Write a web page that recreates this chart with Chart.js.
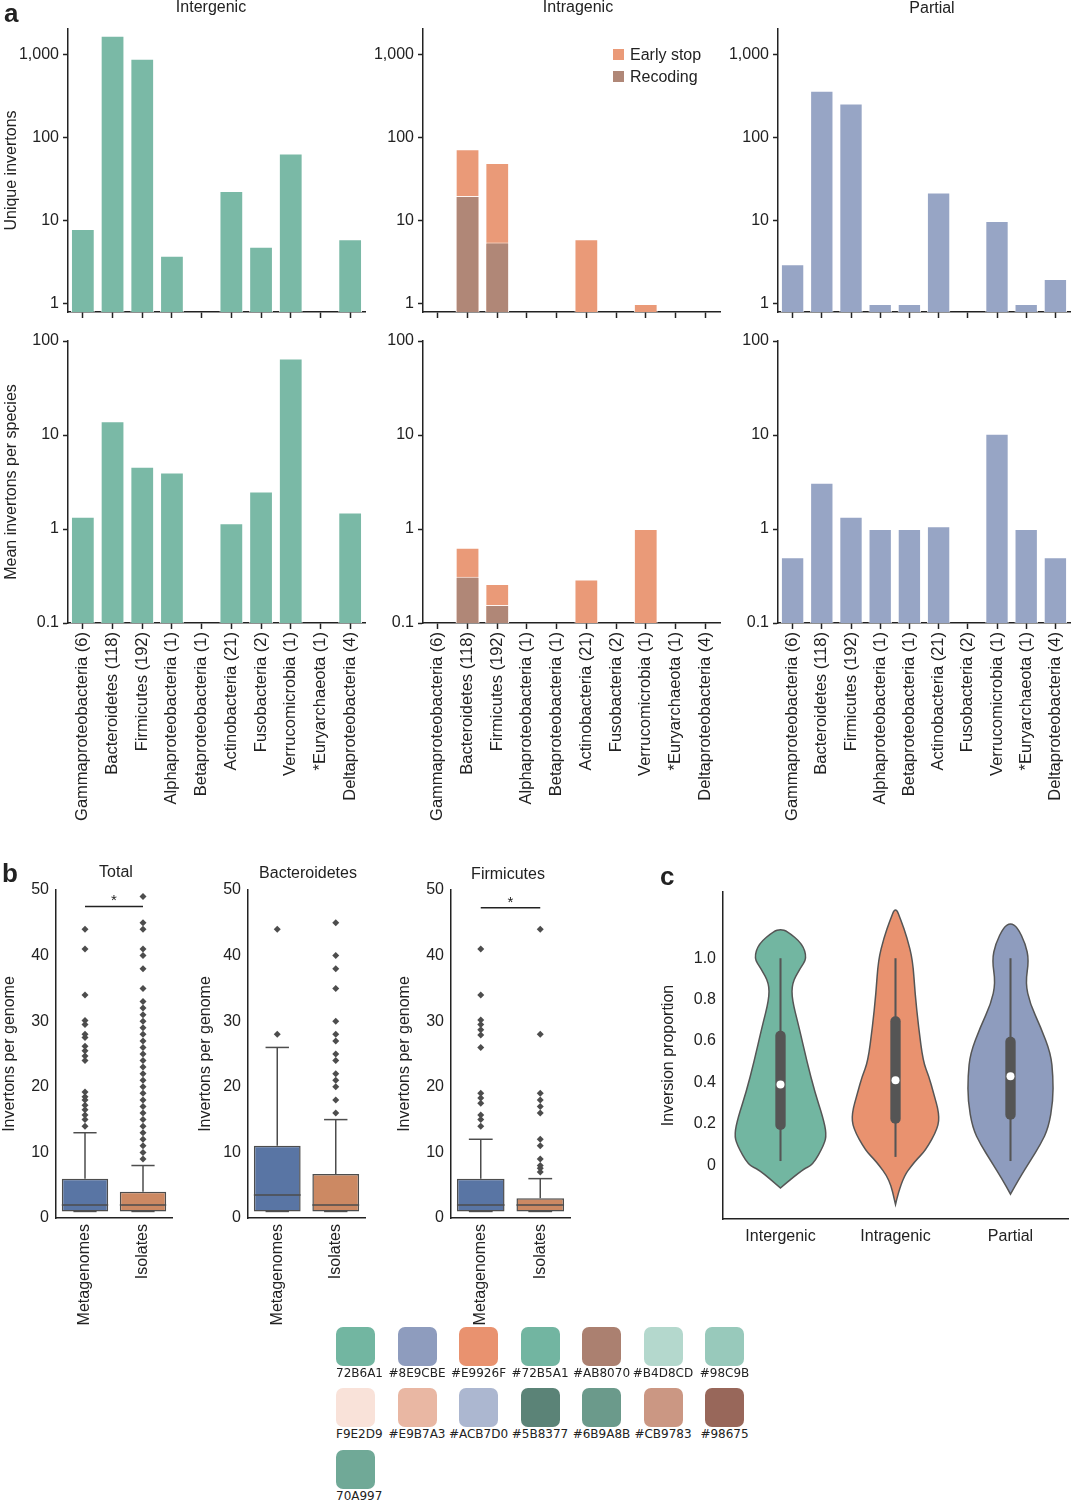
<!DOCTYPE html>
<html>
<head>
<meta charset="utf-8">
<script src="https://cdn.jsdelivr.net/npm/chart.js@4.4.1/dist/chart.umd.min.js"></script>
<style>
  body { margin: 0; background: #fff; font-family: 'Liberation Sans', Arial, sans-serif; color: #222; }
  #page { position: relative; width: 1080px; height: 1500px; overflow: hidden; }
  .box { position: absolute; }
  .txt { position: absolute; font-size: 16px; white-space: nowrap; transform: translate(-50%, -50%); }
  .letter { position: absolute; font-weight: bold; font-size: 26px; line-height: 1; }
  .legsq { position: absolute; width: 11px; height: 11px; }
  .leg { position: absolute; font-size: 16px; white-space: nowrap; transform: translateY(-50%); }
  .sw { position: absolute; width: 39px; height: 39px; border-radius: 7px; z-index: 5; }
  .swl { position: absolute; font-family: 'DejaVu Sans', sans-serif; font-size: 12px; white-space: nowrap; z-index: 5; transform: translateY(-50%); }
</style>
</head>
<body>
<div id="page"></div>
<script>
// ---------- data ----------
const phyla = ['Gammaproteobacteria (6)', 'Bacteroidetes (118)', 'Firmicutes (192)', 'Alphaproteobacteria (1)',
  'Betaproteobacteria (1)', 'Actinobacteria (21)', 'Fusobacteria (2)', 'Verrucomicrobia (1)',
  '*Euryarchaeota (1)', 'Deltaproteobacteria (4)'];

// unique invertons (top row)
const uniqueIntergenic = [8, 1700, 900, 3.8, null, 23, 4.9, 65, null, 6];
const uniqueEarlyStop = [null, 73, 50, null, null, 6, null, 1, null, null];
const uniqueRecoding = [null, 20, 5.5, null, null, null, null, null, null, null];
const uniquePartial = [3, 370, 260, 1, 1, 22, null, 10, 1, 2];
const uniqueTicks = [1, 10, 100, 1000];

// mean invertons per species (bottom row)
const meanIntergenic = [1.35, 14, 4.6, 4.0, null, 1.15, 2.5, 65, null, 1.5];
const meanEarlyStop = [null, 0.63, 0.26, null, null, 0.29, null, 1.0, null, null];
const meanRecoding = [null, 0.31, 0.155, null, null, null, null, null, null, null];
const meanPartial = [0.5, 3.1, 1.35, 1.0, 1.0, 1.07, null, 10.3, 1.0, 0.5];
const meanTicks = [0.1, 1, 10, 100];

// box plots: [low whisker, q1, median, q3, high whisker]
const sources = ['Metagenomes', 'Isolates'];
const totalStats = [[1, 1, 2, 6, 13], [1, 1, 2, 4, 8]];
const totalOutMeta = [14, 15, 15.7, 16.5, 17.2, 18, 18.5, 19.2, 24, 24.7, 25.5, 26.2, 27.5, 28, 29.5, 30.1, 34, 41, 44];
const totalOutIso = [9, 10, 11, 12, 13, 14, 15, 16, 17, 18, 19, 20, 21, 22, 23, 24, 25, 26, 27, 28, 29, 30,
  31, 32, 33, 35, 38, 40, 41, 44, 45, 49];
const bactStats = [[1, 1, 3.5, 11, 26], [1, 1, 2, 6.7, 15]];
const bactOutMeta = [28, 44];
const bactOutIso = [16, 18, 20, 21, 22, 24, 25, 27, 28, 30, 35, 38, 40, 45];
const firmStats = [[1, 1, 2, 6, 12], [1, 1, 2, 3, 6]];
const firmOutMeta = [14, 15, 15.7, 17.5, 18.3, 19, 26, 27.9, 28.7, 29.5, 30.2, 34, 41];
const firmOutIso = [7, 7.6, 8, 9, 11, 12, 16, 17, 18, 19, 28, 44];
const totalSig = 47.5;
const firmSig = 47.3;

// violins: y positions and half widths (in category widths)
const violinGroups = ['Intergenic', 'Intragenic', 'Partial'];
const violinY = [
  [-0.11, -0.02, 0, 0.1, 0.15, 0.23, 0.35, 0.5, 0.67, 0.8, 0.88, 0.95, 1.0, 1.07, 1.13, 1.14],
  [-0.19, -0.07, 0.02, 0.07, 0.18, 0.25, 0.35, 0.43, 0.5, 0.67, 0.83, 0.99, 1.1, 1.18, 1.25],
  [-0.14, -0.07, 0.02, 0.1, 0.18, 0.31, 0.43, 0.54, 0.67, 0.78, 0.88, 0.99, 1.07, 1.15, 1.17]
];
const violinW = [
  [0, 0.19, 0.28, 0.38, 0.40, 0.37, 0.30, 0.23, 0.16, 0.10, 0.10, 0.17, 0.23, 0.19, 0.06, 0],
  [0, 0.05, 0.17, 0.26, 0.37, 0.38, 0.33, 0.29, 0.24, 0.20, 0.17, 0.15, 0.10, 0.05, 0],
  [0, 0.07, 0.17, 0.26, 0.33, 0.37, 0.37, 0.35, 0.26, 0.17, 0.13, 0.16, 0.13, 0.06, 0]
];
const violinStats = [[0.02, 0.17, 0.39, 0.65, 1.0], [0.04, 0.2, 0.41, 0.72, 1.0], [0.02, 0.22, 0.43, 0.62, 1.0]];
const violinTicks = [0, 0.2, 0.4, 0.6, 0.8, 1.0];

// palette swatches
const swatchLabels = [
  ['72B6A1', '#8E9CBE', '#E9926F', '#72B5A1', '#AB8070', '#B4D8CD', '#98C9B'],
  ['F9E2D9', '#E9B7A3', '#ACB7D0', '#5B8377', '#6B9A8B', '#CB9783', '#98675'],
  ['70A997']
];
const swatchColors = [
  ['#72B6A1', '#8E9CBE', '#E9926F', '#72B5A1', '#AB8070', '#B4D8CD', '#98C9BB'],
  ['#F9E2D9', '#E9B7A3', '#ACB7D0', '#5B8377', '#6B9A8B', '#CB9783', '#98675A'],
  ['#70A997']
];

// ---------- setup ----------
Chart.defaults.font.family = "'Liberation Sans', Arial, sans-serif";
Chart.defaults.font.size = 16;
Chart.defaults.color = '#222';
Chart.defaults.animation = false;
Chart.defaults.plugins.legend.display = false;
Chart.defaults.plugins.tooltip.enabled = false;

const page = document.getElementById('page');
const AXIS = '#222';

function addText(text, x, y, cls) {
  const d = document.createElement('div');
  d.className = cls || 'txt';
  d.textContent = text;
  d.style.left = x + 'px';
  d.style.top = y + 'px';
  page.appendChild(d);
  return d;
}

// place a chart so its chart area lands at area {x, y, w, h}
function makeChart(area, pad, config) {
  const div = document.createElement('div');
  div.className = 'box';
  const left = area.x - pad.yW, top = area.y - pad.top;
  const width = pad.yW + area.w + pad.right, height = pad.top + area.h + pad.xH;
  div.style.cssText = `left:${left}px;top:${top}px;width:${width}px;height:${height}px`;
  const cv = document.createElement('canvas');
  div.appendChild(cv);
  page.appendChild(div);
  const o = config.options;
  o.responsive = true;
  o.maintainAspectRatio = false;
  o.layout = { padding: { top: pad.top, right: pad.right, left: 0, bottom: 0 } };
  o.scales.x.afterFit = s => { s.height = pad.xH; s.paddingLeft = 0; s.paddingRight = 0; };
  o.scales.y.afterFit = s => { s.width = pad.yW; s.paddingTop = 0; s.paddingBottom = 0; };
  return new Chart(cv, config);
}

//========== a: bar charts ==========//
function barSet(data, color, order) {
  return { data, backgroundColor: color, borderColor: 'rgba(255,255,255,0.9)', borderWidth: 1,
    barPercentage: 0.8, categoryPercentage: 1, order };
}

function barConfig(datasets, ticks, min, max, showLabels, yTitle) {
  return {
    type: 'bar',
    data: { labels: phyla, datasets },
    options: {
      scales: {
        x: {
          type: 'category', stacked: true, offset: true,
          grid: { offset: false, drawOnChartArea: false, tickLength: 6, tickWidth: 1.5, tickColor: AXIS },
          border: { color: AXIS, width: 1.5 },
          ticks: { display: showLabels, minRotation: 90, maxRotation: 90, autoSkip: false, padding: 3, font: { size: 16.5 } }
        },
        y: {
          type: 'logarithmic', min, max, stacked: false,
          grid: { drawOnChartArea: false, tickLength: 5, tickWidth: 1.5, tickColor: AXIS },
          border: { color: AXIS, width: 1.5 },
          ticks: { padding: 4, autoSkip: false, callback: v => Number(v).toLocaleString('en-US') },
          afterBuildTicks: s => { s.ticks = ticks.map(v => ({ value: v })); },
          title: yTitle ? { display: true, text: yTitle, padding: 0, font: { size: 16 } } : { display: false }
        }
      }
    }
  };
}

const C_INTER = '#7ab9a6', C_EARLY = '#ea9a78', C_RECOD = '#b08777', C_PART = '#97a5c5';
const topPad = { yW: 66, top: 29, right: 4, xH: 12 };
const topPad2 = { yW: 60, top: 29, right: 4, xH: 12 };
const botPad = { yW: 66, top: 12, right: 4, xH: 205 };
const botPad2 = { yW: 60, top: 12, right: 4, xH: 205 };

makeChart({ x: 68, y: 29, w: 297, h: 283 }, topPad,
  barConfig([barSet(uniqueIntergenic, C_INTER, 1)], uniqueTicks, 0.8, 2050, false, 'Unique invertons'));
makeChart({ x: 423, y: 29, w: 297, h: 283 }, topPad2,
  barConfig([barSet(uniqueRecoding, C_RECOD, 1), barSet(uniqueEarlyStop, C_EARLY, 2)], uniqueTicks, 0.8, 2050, false));
makeChart({ x: 778, y: 29, w: 292, h: 283 }, topPad2,
  barConfig([barSet(uniquePartial, C_PART, 1)], uniqueTicks, 0.8, 2050, false));

makeChart({ x: 68, y: 341, w: 297, h: 282 }, botPad,
  barConfig([barSet(meanIntergenic, C_INTER, 1)], meanTicks, 0.1, 100, true, 'Mean invertons per species'));
makeChart({ x: 423, y: 341, w: 297, h: 282 }, botPad2,
  barConfig([barSet(meanRecoding, C_RECOD, 1), barSet(meanEarlyStop, C_EARLY, 2)], meanTicks, 0.1, 100, true));
makeChart({ x: 778, y: 341, w: 292, h: 282 }, botPad2,
  barConfig([barSet(meanPartial, C_PART, 1)], meanTicks, 0.1, 100, true));

//========== b: box plots ==========//
function boxExtras(stats, sig) {
  return {
    id: 'boxExtras',
    afterDatasetsDraw(chart) {
      const { ctx, scales: { x, y } } = chart;
      const cw = x.getPixelForValue(1) - x.getPixelForValue(0);
      ctx.save();
      ctx.strokeStyle = '#4d4d4d';
      ctx.lineWidth = 1.5;
      stats.forEach((s, i) => {
        const cx = x.getPixelForValue(i);
        const [lo, q1, md, q3, hi] = s;
        const seg = (x1, y1, x2, y2) => { ctx.beginPath(); ctx.moveTo(x1, y1); ctx.lineTo(x2, y2); ctx.stroke(); };
        seg(cx, y.getPixelForValue(q3), cx, y.getPixelForValue(hi));
        seg(cx, y.getPixelForValue(q1), cx, y.getPixelForValue(lo));
        seg(cx - cw * 0.2, y.getPixelForValue(hi), cx + cw * 0.2, y.getPixelForValue(hi));
        seg(cx - cw * 0.2, y.getPixelForValue(lo), cx + cw * 0.2, y.getPixelForValue(lo));
        seg(cx - cw * 0.4, y.getPixelForValue(md), cx + cw * 0.4, y.getPixelForValue(md));
      });
      if (sig) {
        const yy = y.getPixelForValue(sig);
        ctx.strokeStyle = '#222';
        ctx.beginPath();
        ctx.moveTo(x.getPixelForValue(0), yy);
        ctx.lineTo(x.getPixelForValue(1), yy);
        ctx.stroke();
        ctx.fillStyle = '#222';
        ctx.font = "15px 'Liberation Sans', Arial, sans-serif";
        ctx.textAlign = 'center';
        ctx.fillText('*', (x.getPixelForValue(0) + x.getPixelForValue(1)) / 2, yy - 1);
      }
      ctx.restore();
    }
  };
}

function outlierSet(label, values) {
  return { type: 'scatter', data: values.map(v => ({ x: label, y: v })), pointStyle: 'rectRot',
    radius: 3.5, backgroundColor: '#4d4d4d', borderWidth: 0, order: 0 };
}

function boxConfig(stats, outMeta, outIso, sig) {
  return {
    type: 'bar',
    data: {
      labels: sources,
      datasets: [
        { data: stats.map(s => [s[1], s[3]]), backgroundColor: ['#5975a4', '#cc8963'], borderColor: '#4d4d4d',
          borderWidth: 1.5, borderSkipped: false, barPercentage: 0.8, categoryPercentage: 1, order: 1 },
        outlierSet(sources[0], outMeta),
        outlierSet(sources[1], outIso)
      ]
    },
    options: {
      scales: {
        x: { type: 'category', offset: true, grid: { display: false, drawTicks: false }, border: { color: AXIS, width: 1.5 },
          ticks: { minRotation: 90, maxRotation: 90, autoSkip: false, padding: 6 } },
        y: { type: 'linear', min: 0, max: 50, grid: { display: false, drawTicks: false }, border: { color: AXIS, width: 1.5 },
          ticks: { stepSize: 10, padding: 7 },
          title: { display: true, text: 'Invertons per genome', padding: 0, font: { size: 16 } } }
      }
    },
    plugins: [boxExtras(stats, sig)]
  };
}

const boxPad = { yW: 56, top: 20, right: 6, xH: 115 };
const boxPad2 = { yW: 52, top: 20, right: 6, xH: 115 };
makeChart({ x: 56, y: 890, w: 116, h: 328 }, boxPad, boxConfig(totalStats, totalOutMeta, totalOutIso, totalSig));
makeChart({ x: 248, y: 890, w: 117, h: 328 }, boxPad2, boxConfig(bactStats, bactOutMeta, bactOutIso, null));
makeChart({ x: 451, y: 890, w: 119, h: 328 }, boxPad, boxConfig(firmStats, firmOutMeta, firmOutIso, firmSig));

//========== c: violins ==========//
const violinColors = ['#72B6A1', '#E9926F', '#8E9CBE'];
const violinPlugin = {
  id: 'violins',
  beforeDatasetsDraw(chart) {
    const { ctx, scales: { x, y } } = chart;
    const cw = x.getPixelForValue(1) - x.getPixelForValue(0);
    ctx.save();
    violinGroups.forEach((g, i) => {
      const cx = x.getPixelForValue(i);
      const right = violinY[i].map((v, k) => [cx + violinW[i][k] * cw, y.getPixelForValue(v)]);
      const left = violinY[i].map((v, k) => [cx - violinW[i][k] * cw, y.getPixelForValue(v)]).reverse();
      const pts = right.concat(left.slice(1));
      ctx.beginPath();
      ctx.moveTo(pts[0][0], pts[0][1]);
      for (let k = 1; k < pts.length - 1; k++) {
        const mx = (pts[k][0] + pts[k + 1][0]) / 2, my = (pts[k][1] + pts[k + 1][1]) / 2;
        ctx.quadraticCurveTo(pts[k][0], pts[k][1], mx, my);
      }
      ctx.lineTo(pts[pts.length - 1][0], pts[pts.length - 1][1]);
      ctx.closePath();
      ctx.fillStyle = violinColors[i];
      ctx.fill();
      ctx.strokeStyle = '#555';
      ctx.lineWidth = 1.5;
      ctx.stroke();
    });
    ctx.restore();
  }
};

makeChart({ x: 723, y: 892, w: 345, h: 327 }, { yW: 64, top: 10, right: 10, xH: 40 }, {
  type: 'bar',
  data: {
    labels: violinGroups,
    datasets: [
      { data: violinStats.map(s => [s[0], s[4]]), backgroundColor: '#555', barPercentage: 0.018,
        categoryPercentage: 1, order: 3 },
      { data: violinStats.map(s => [s[1], s[3]]), backgroundColor: '#555', barPercentage: 0.09,
        categoryPercentage: 1, borderRadius: 5, borderSkipped: false, order: 2 },
      { type: 'scatter', data: violinStats.map((s, i) => ({ x: violinGroups[i], y: s[2] })),
        pointStyle: 'circle', radius: 4, backgroundColor: '#fff', borderWidth: 0, order: 1 }
    ]
  },
  options: {
    scales: {
      x: { type: 'category', stacked: true, offset: true, grid: { display: false, drawTicks: false },
        border: { color: AXIS, width: 1.5 }, ticks: { padding: 8 } },
      y: { type: 'linear', min: -0.26, max: 1.32, stacked: false, grid: { display: false, drawTicks: false },
        border: { color: AXIS, width: 1.5 },
        ticks: { padding: 7, callback: v => v === 0 ? '0' : Number(v).toFixed(1) },
        afterBuildTicks: s => { s.ticks = violinTicks.map(v => ({ value: v })); },
        title: { display: true, text: 'Inversion proportion', padding: 0, font: { size: 16 } } }
    }
  },
  plugins: [violinPlugin]
});

//========== titles, legend, letters ==========//
addText('a', 4, 0, 'letter');
addText('b', 2, 860, 'letter');
addText('c', 660, 863, 'letter');
addText('Intergenic', 211, 7);
addText('Intragenic', 578, 7);
addText('Partial', 932, 8);
addText('Total', 116, 872);
addText('Bacteroidetes', 308, 873);
addText('Firmicutes', 508, 874);

[['Early stop', C_EARLY, 55], ['Recoding', C_RECOD, 77]].forEach(([t, c, yy]) => {
  const sq = document.createElement('div');
  sq.className = 'legsq';
  sq.style.cssText = `left:613px;top:${yy - 6}px;background:${c}`;
  page.appendChild(sq);
  addText(t, 630, yy, 'leg');
});

//========== palette swatches ==========//
const swRowTop = [1327, 1388, 1450];
swatchColors.forEach((row, r) => {
  row.forEach((c, i) => {
    const x0 = 336 + i * 61.5;
    const sq = document.createElement('div');
    sq.className = 'sw';
    sq.style.cssText = `left:${x0}px;top:${swRowTop[r]}px;background:${c}`;
    page.appendChild(sq);
    const lab = swatchLabels[r][i];
    const d = addText(lab, x0, swRowTop[r] + 46, 'swl');
    if (lab.startsWith('#')) {
      d.style.left = (x0 + 19.5) + 'px';
      d.style.transform = 'translate(-50%, -50%)';
    }
  });
});
</script>
</body>
</html>
